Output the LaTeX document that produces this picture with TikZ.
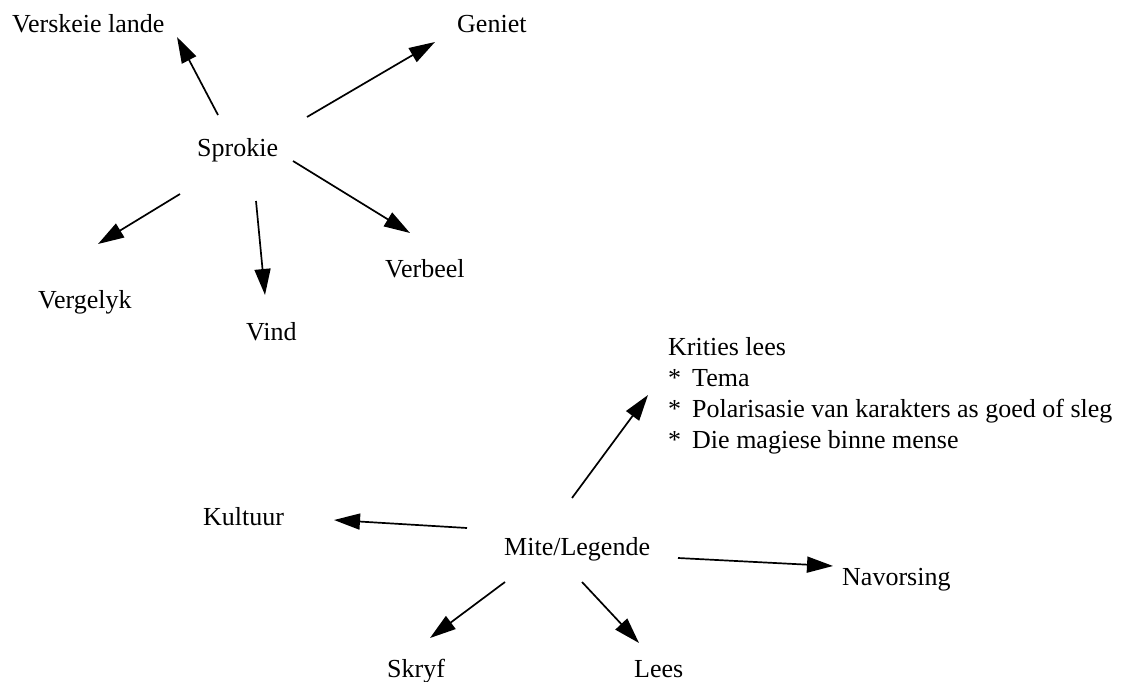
\documentclass[tikz,border=0pt]{standalone}
\usepackage{fontspec}
\setmainfont{Liberation Serif}
\usetikzlibrary{arrows.meta}
\begin{document}
\begin{tikzpicture}[x=1pt,y=-1pt,
  lbl/.style={anchor=base west,inner sep=0pt,font=\fontsize{26}{31}\selectfont},
  link/.style={line width=1.7pt,-{Triangle[length=26pt,width=16pt]}}]
\useasboundingbox (0,0) rectangle (1135,682);

% first cluster
\node[lbl] (sprokie) at (197,157) {Sprokie};
\node[lbl] (lande)   at (12,33)   {Verskeie lande};
\node[lbl] (geniet)  at (457,33)  {Geniet};
\node[lbl] (vergelyk) at (38,308) {Vergelyk};
\node[lbl] (vind)    at (246,340) {Vind};
\node[lbl] (verbeel) at (385,277) {Verbeel};

% second cluster
\node[lbl] (mite)    at (504,555) {Mite/Legende};
\node[lbl] (kultuur) at (203,525) {Kultuur};
\node[lbl] (navorsing) at (842,585) {Navorsing};
\node[lbl] (skryf)   at (387,677) {Skryf};
\node[lbl] (lees)    at (634,677) {Lees};
\node[lbl] (krities) at (668,355) {\begin{tabular}[t]{@{}l@{}}
  Krities lees\\
  \makebox[24pt][l]{*}Tema\\
  \makebox[24pt][l]{*}Polarisasie van karakters as goed of sleg\\
  \makebox[24pt][l]{*}Die magiese binne mense
\end{tabular}};

% arrow end points
\coordinate (a1s) at (218,115); \coordinate (a1e) at (177,37);
\coordinate (a2s) at (307,117); \coordinate (a2e) at (435,42);
\coordinate (a3s) at (180,194); \coordinate (a3e) at (98,244);
\coordinate (a4s) at (256,201); \coordinate (a4e) at (265,295);
\coordinate (a5s) at (293,161); \coordinate (a5e) at (410,233);
\coordinate (b1s) at (467,528); \coordinate (b1e) at (334,520);
\coordinate (b2s) at (572,498); \coordinate (b2e) at (648,395);
\coordinate (b3s) at (678,558); \coordinate (b3e) at (833,566);
\coordinate (b4s) at (505,582); \coordinate (b4e) at (430,638);
\coordinate (b5s) at (582,582); \coordinate (b5e) at (639,643);

\draw[link] (a1s) -- (a1e);
\draw[link] (a2s) -- (a2e);
\draw[link] (a3s) -- (a3e);
\draw[link] (a4s) -- (a4e);
\draw[link] (a5s) -- (a5e);
\draw[link] (b1s) -- (b1e);
\draw[link] (b2s) -- (b2e);
\draw[link] (b3s) -- (b3e);
\draw[link] (b4s) -- (b4e);
\draw[link] (b5s) -- (b5e);
\end{tikzpicture}
\end{document}
